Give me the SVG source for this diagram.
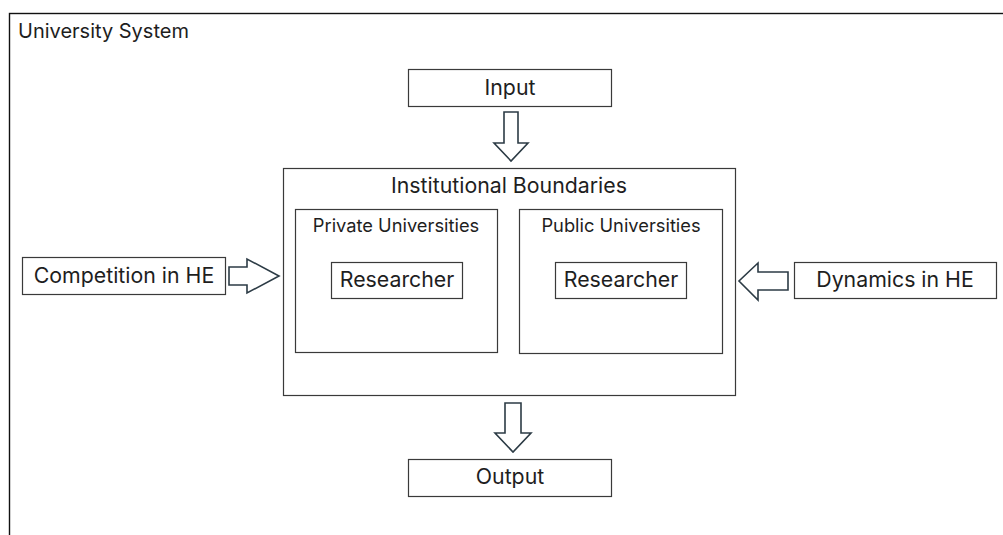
<svg xmlns="http://www.w3.org/2000/svg" width="1003" height="535" viewBox="0 0 1003 535">
  <style>
    .box { fill: #ffffff; stroke: #3a3a3a; stroke-width: 1.2; }
    .frame { fill: #ffffff; stroke: #111111; stroke-width: 1.4; }
    .arrow { fill: #ffffff; stroke: #2c3b45; stroke-width: 1.6; stroke-linejoin: miter; }
    .lbl { font-family: Inter, "Liberation Sans", sans-serif; fill: #1e1e1e; text-anchor: middle; }
    .big { font-size: 21.3px; }
    .small { font-size: 18.3px; }
  </style>
  <rect width="1003" height="535" fill="#ffffff"/>

  <!-- outer system frame (runs off right and bottom edges) -->
  <g id="university-system">
    <rect class="frame" x="9.5" y="13.5" width="1010" height="540"/>
    <text class="lbl" x="18" y="38" style="text-anchor:start;font-size:20px">University System</text>
  </g>

  <g id="input">
    <rect class="box" x="408.5" y="69.5" width="203" height="37"/>
    <text class="lbl big" x="510" y="95">Input</text>
  </g>

  <g id="institutional-boundaries">
    <rect class="box" x="283.5" y="168.5" width="452" height="227"/>
    <text class="lbl big" x="509" y="193">Institutional Boundaries</text>
  </g>

  <g id="private-universities">
    <rect class="box" x="295.5" y="209.5" width="202" height="143"/>
    <text class="lbl small" x="396" y="232">Private Universities</text>
  </g>

  <g id="public-universities">
    <rect class="box" x="519.5" y="209.5" width="203" height="144"/>
    <text class="lbl small" x="621" y="232">Public Universities</text>
  </g>

  <g id="researcher-private">
    <rect class="box" x="331.5" y="262.5" width="131" height="36"/>
    <text class="lbl big" x="397" y="287">Researcher</text>
  </g>

  <g id="researcher-public">
    <rect class="box" x="555.5" y="262.5" width="131" height="36"/>
    <text class="lbl big" x="621" y="287">Researcher</text>
  </g>

  <g id="competition">
    <rect class="box" x="22.5" y="257.5" width="203" height="37"/>
    <text class="lbl big" x="124" y="283">Competition in HE</text>
  </g>

  <g id="dynamics">
    <rect class="box" x="794.5" y="262.5" width="202" height="36"/>
    <text class="lbl big" x="895" y="287">Dynamics in HE</text>
  </g>

  <g id="output">
    <rect class="box" x="408.5" y="459.5" width="203" height="37"/>
    <text class="lbl big" x="510" y="484">Output</text>
  </g>

  <!-- block arrows -->
  <g id="connectors">
    <path class="arrow" d="M504,112 H518 V143 H528 L511,161 L494,143 H504 Z"/>
    <path class="arrow" d="M505,403 H521 V433 H531 L513,452 L495,433 H505 Z"/>
    <path class="arrow" d="M229,267 H247 V259 L279,276 L247,293 V285 H229 Z"/>
    <path class="arrow" d="M788,272 H758 V263 L739,281 L758,300 V290 H788 Z"/>
  </g>
</svg>
